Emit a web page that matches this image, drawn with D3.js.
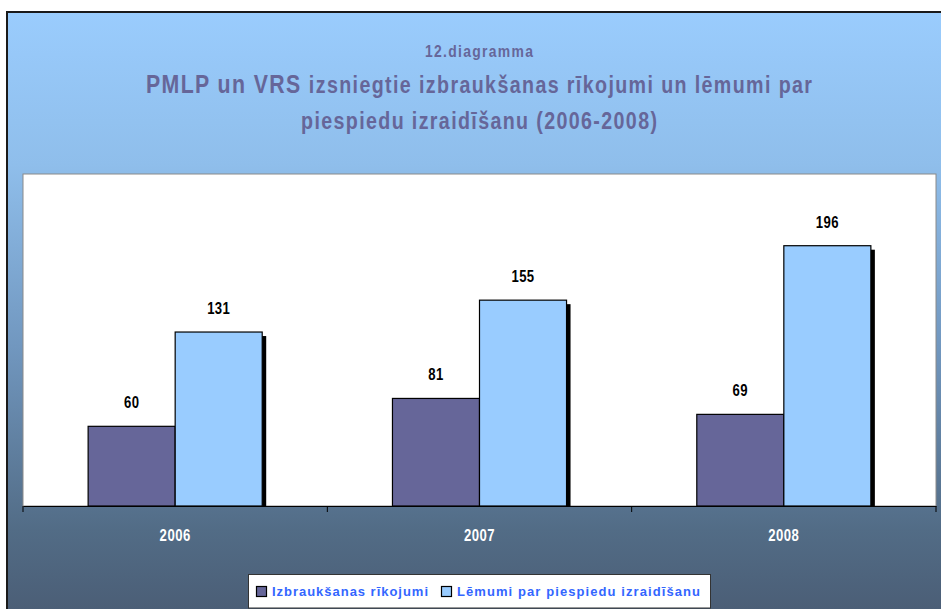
<!DOCTYPE html>
<html><head><meta charset="utf-8">
<script src="https://cdn.jsdelivr.net/npm/d3@7"></script>
<style>html,body{margin:0;padding:0;background:#fff;overflow:hidden}</style>
</head><body>
<script>
const categories = ["2006", "2007", "2008"];
const seriesNames = ["Izbraukšanas rīkojumi", "Lēmumi par piespiedu izraidīšanu"];
const izbrauksanas = [60, 81, 69];
const lemumi = [131, 155, 196];
const seriesColors = ["#666699", "#99ccff"];
const yDomain = [0, 250];

(function(){
const W = 941, H = 609;
const svg = d3.select("body").append("svg").attr("width", W).attr("height", H);
const defs = svg.append("defs");
const grad = defs.append("linearGradient").attr("id","bg").attr("x1",0).attr("y1",0).attr("x2",0).attr("y2",1);
[[0,"#9accfd"],[0.25,"#8fbeeb"],[0.55,"#7197bf"],[0.85,"#526c86"],[1,"#4a5c74"]].forEach(s=>grad.append("stop").attr("offset",s[0]).attr("stop-color",s[1]));

// frame
svg.append("rect").attr("x",7).attr("y",12).attr("width",W).attr("height",H).attr("fill","url(#bg)");
svg.append("path").attr("d",`M7,${H} L7,12 L${W},12`).attr("fill","none").attr("stroke","#1a1a1a").attr("stroke-width",2);

const font = "'Liberation Sans',Arial,sans-serif";
const SX = 0.82; // emulate narrow face
function narrow(parent, x, yy, size, color, width){
  const t = parent.append("text").attr("transform",`translate(${x},${yy}) scale(${SX},1)`)
    .attr("text-anchor","middle").style("font-family",font).style("font-weight","bold")
    .style("font-size",size+"px").attr("fill",color);
  if (width) t.attr("textLength",width/SX).attr("lengthAdjust","spacing");
  return t;
}
const titleColor = "#666699";
const cx = 479;
narrow(svg, cx, 57, 17, titleColor, 108).text("12.diagramma");
const t1 = narrow(svg, cx, 93, 26, titleColor, 666);
t1.append("tspan").text("PMLP un VRS ");
t1.append("tspan").style("font-size","24px").text("izsniegtie izbraukšanas rīkojumi un lēmumi par");
narrow(svg, cx, 129, 24, titleColor, 356).text("piespiedu izraidīšanu (2006-2008)");

// plot area
const pLeft = 23, pRight = 936, pTop = 174, pBottom = 506;
svg.append("rect").attr("x",pLeft).attr("y",pTop).attr("width",pRight-pLeft).attr("height",pBottom-pTop)
  .attr("fill","#fff").attr("stroke","#8a8a8a").attr("stroke-width",1);

const x0 = d3.scaleBand().domain(categories).range([pLeft,pRight]).padding(0);
const bw = x0.bandwidth();
const x1 = d3.scaleBand().domain([0,1]).range([bw*0.214, bw*0.786]).padding(0);
const y = d3.scaleLinear().domain(yDomain).range([pBottom, pTop]);

const data = categories.map((c,i)=>({cat:c, vals:[izbrauksanas[i], lemumi[i]]}));
const groups = svg.selectAll("g.grp").data(data).join("g").attr("class","grp")
  .attr("transform",d=>`translate(${x0(d.cat)},0)`);

// shadows
groups.selectAll("rect.sh").data(d=>d.vals.map((v,k)=>({v,k}))).join("rect").attr("class","sh")
  .attr("x",d=>x1(d.k)+4).attr("y",d=>y(d.v)+4)
  .attr("width",x1.bandwidth()).attr("height",d=>pBottom-y(d.v)-4).attr("fill","#000");
// bars
groups.selectAll("rect.bar").data(d=>d.vals.map((v,k)=>({v,k}))).join("rect").attr("class","bar")
  .attr("x",d=>x1(d.k)).attr("y",d=>y(d.v))
  .attr("width",x1.bandwidth()).attr("height",d=>pBottom-y(d.v))
  .attr("fill",d=>seriesColors[d.k]).attr("stroke","#000").attr("stroke-width",1.2);
// labels
groups.each(function(d){
  const g = d3.select(this);
  d.vals.forEach((v,k)=>{
    narrow(g, x1(k)+x1.bandwidth()/2, y(v)-18, 16, "#000").style("letter-spacing","0.5px").text(v);
  });
});

// x axis
const xAxis = d3.axisBottom(x0).tickSize(0).tickFormat("");
const ax = svg.append("g").attr("transform",`translate(0,${pBottom})`).call(xAxis);
ax.select(".domain").attr("stroke","#000").attr("stroke-width",1.2);
ax.selectAll(".tick").each(function(c){
  narrow(d3.select(this), 0, 35, 16, "#fff").style("letter-spacing","0.6px").text(c);
});
const edges = categories.map(c=>x0(c)).concat([pRight]);
svg.selectAll("line.tk").data(edges).join("line").attr("class","tk")
  .attr("x1",d=>d).attr("x2",d=>d).attr("y1",pBottom).attr("y2",pBottom+6)
  .attr("stroke","#000").attr("stroke-width",1);

// legend
const lg = svg.append("g");
lg.append("rect").attr("x",248.5).attr("y",574.5).attr("width",462).attr("height",33.5)
  .attr("fill","#fff").attr("stroke","#333").attr("stroke-width",1);
const legX = [256, 441];
const legW = [156, 243];
seriesNames.forEach((n,i)=>{
  lg.append("rect").attr("x",legX[i]+0.5).attr("y",586.5).attr("width",10).attr("height",10)
    .attr("fill",seriesColors[i]).attr("stroke","#000").attr("stroke-width",1.2);
  lg.append("text").attr("x",legX[i]+16).attr("y",596)
    .style("font-family",font).style("font-weight","bold").style("font-size","13px")
    .attr("fill","#3366ff").attr("textLength",legW[i]).attr("lengthAdjust","spacing").text(n);
});
})();
</script>
</body></html>
